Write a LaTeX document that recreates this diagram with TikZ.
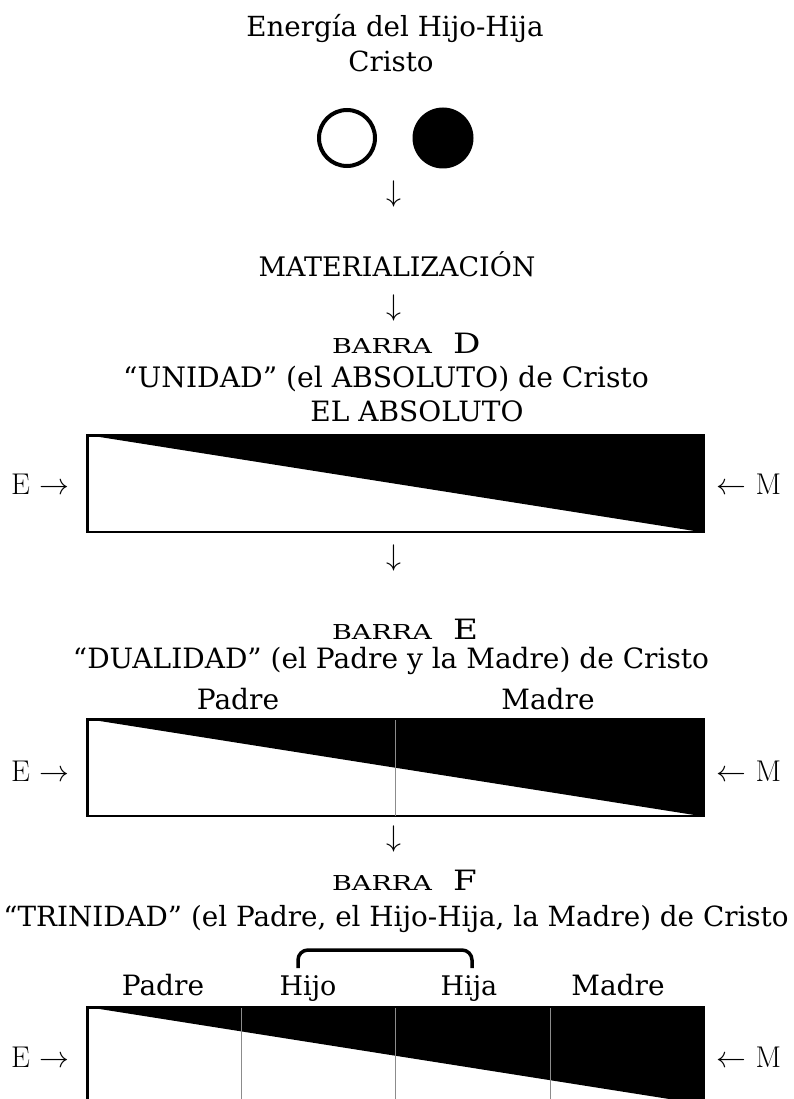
\documentclass[tikz,border=0pt]{standalone}
\usepackage{fontspec}
\newfontfamily\dvs{DejaVu Serif}
\newfontfamily\dvswide[FakeStretch=1.32]{DejaVu Serif}
\newfontfamily\dvsltr[FakeStretch=1.22]{DejaVu Serif}
\usetikzlibrary{calc}
\newcommand\myarr[1]{\scalebox{1.2}{\Huge$#1$}}
\begin{document}
\begin{tikzpicture}[x=1pt,y=-1pt,
  txt/.style={inner sep=0pt, anchor=base, font=\dvs\fontsize{#1}{#1}\selectfont},
  txt/.default=27,
  sc/.style={inner sep=0pt, anchor=base east, font=\dvswide\fontsize{20.5}{24}\selectfont},
  letter/.style={inner sep=0pt, anchor=base west, font=\dvsltr\fontsize{28}{32}\selectfont},
  lm/.style={inner sep=0pt, anchor=center, font=\rmfamily\fontsize{30}{36}\selectfont},
  bar/.style={draw=black, line width=1.6pt, minimum width=616pt, minimum height=96pt, anchor=north west, inner sep=0pt},
  divider/.style={draw=black!45, line width=1.2pt},
  bracketline/.style={draw=black, line width=3.5pt, rounded corners=10pt}
]
\useasboundingbox (0,0) rectangle (793,1099);
\clip (0,0) rectangle (793,1099);

% title
\node[txt=27.7] (t1) at (395,37) {Energía del Hijo-Hija};
\node[txt=27.7] (t2) at (391,72) {Cristo};
\node[circle, draw=black, line width=4pt, minimum size=56pt, inner sep=0pt] (wc) at (347,138) {};
\node[circle, fill=black, minimum size=61pt, inner sep=0pt] (bc) at (443,138) {};
\node[lm] (a1) at (394,194) {\myarr{\downarrow}};
\node[txt=26.9] (mat) at (397,276) {MATERIALIZACIÓN};
\node[lm] (a2) at (394,308) {\myarr{\downarrow}};

% BARRA D
\node[sc] (bD) at (432,353) {BARRA};
\node[letter] (lD) at (453,353) {D};
\node[txt=28.2] (uD) at (386,387) {“UNIDAD” (el ABSOLUTO) de Cristo};
\node[txt=28] (abs) at (417,421) {EL ABSOLUTO};
\node[bar] (barD) at (87,435) {};
\fill[black] (barD.north west) -- (barD.north east) -- (barD.south east) -- cycle;
\draw[line width=1.6pt] (barD.north west) rectangle (barD.south east);
\node[lm] (eD) at (40,484) {E \myarr{\rightarrow}};
\node[lm] (mD) at (749,484) {\myarr{\leftarrow} M};
\node[lm] (a3) at (394,558) {\myarr{\downarrow}};

% BARRA E
\node[sc] (bE) at (432,639) {BARRA};
\node[letter] (lE) at (453,639) {E};
\node[txt=28] (uE) at (391,668) {“DUALIDAD” (el Padre y la Madre) de Cristo};
\node[txt=28] (pE) at (238,709) {Padre};
\node[txt=28] (mE) at (548,709) {Madre};
\node[bar] (barE) at (87,719) {};
\fill[black] (barE.north west) -- (barE.north east) -- (barE.south east) -- cycle;
\draw[divider] (barE.north) -- (barE.south);
\draw[line width=1.6pt] (barE.north west) rectangle (barE.south east);
\node[lm] (eE) at (40,771) {E \myarr{\rightarrow}};
\node[lm] (mE2) at (749,771) {\myarr{\leftarrow} M};
\node[lm] (a4) at (394,839) {\myarr{\downarrow}};

% BARRA F
\node[sc] (bF) at (432,890) {BARRA};
\node[letter] (lF) at (453,890) {F};
\node[txt=27.8] (uF) at (396,926) {“TRINIDAD” (el Padre, el Hijo-Hija, la Madre) de Cristo};
\node[txt=28] (pF) at (163,995) {Padre};
\node[txt=27] (hF) at (308,995) {Hijo};
\node[txt=27] (haF) at (469,995) {Hija};
\node[txt=28] (mF) at (618,995) {Madre};
\draw[bracketline] (298,968) -- (298,950) -- (472,950) -- (472,968);
\node[bar] (barF) at (87,1007) {};
\fill[black] (barF.north west) -- (barF.north east) -- (barF.south east) -- cycle;
\draw[divider] ($(barF.north west)!0.25!(barF.north east)$) -- ($(barF.south west)!0.25!(barF.south east)$);
\draw[divider] (barF.north) -- (barF.south);
\draw[divider] ($(barF.north west)!0.75!(barF.north east)$) -- ($(barF.south west)!0.75!(barF.south east)$);
\draw[line width=1.6pt] (barF.north west) rectangle (barF.south east);
\node[lm] (eF) at (40,1057) {E \myarr{\rightarrow}};
\node[lm] (mF2) at (749,1057) {\myarr{\leftarrow} M};
\end{tikzpicture}
\end{document}
